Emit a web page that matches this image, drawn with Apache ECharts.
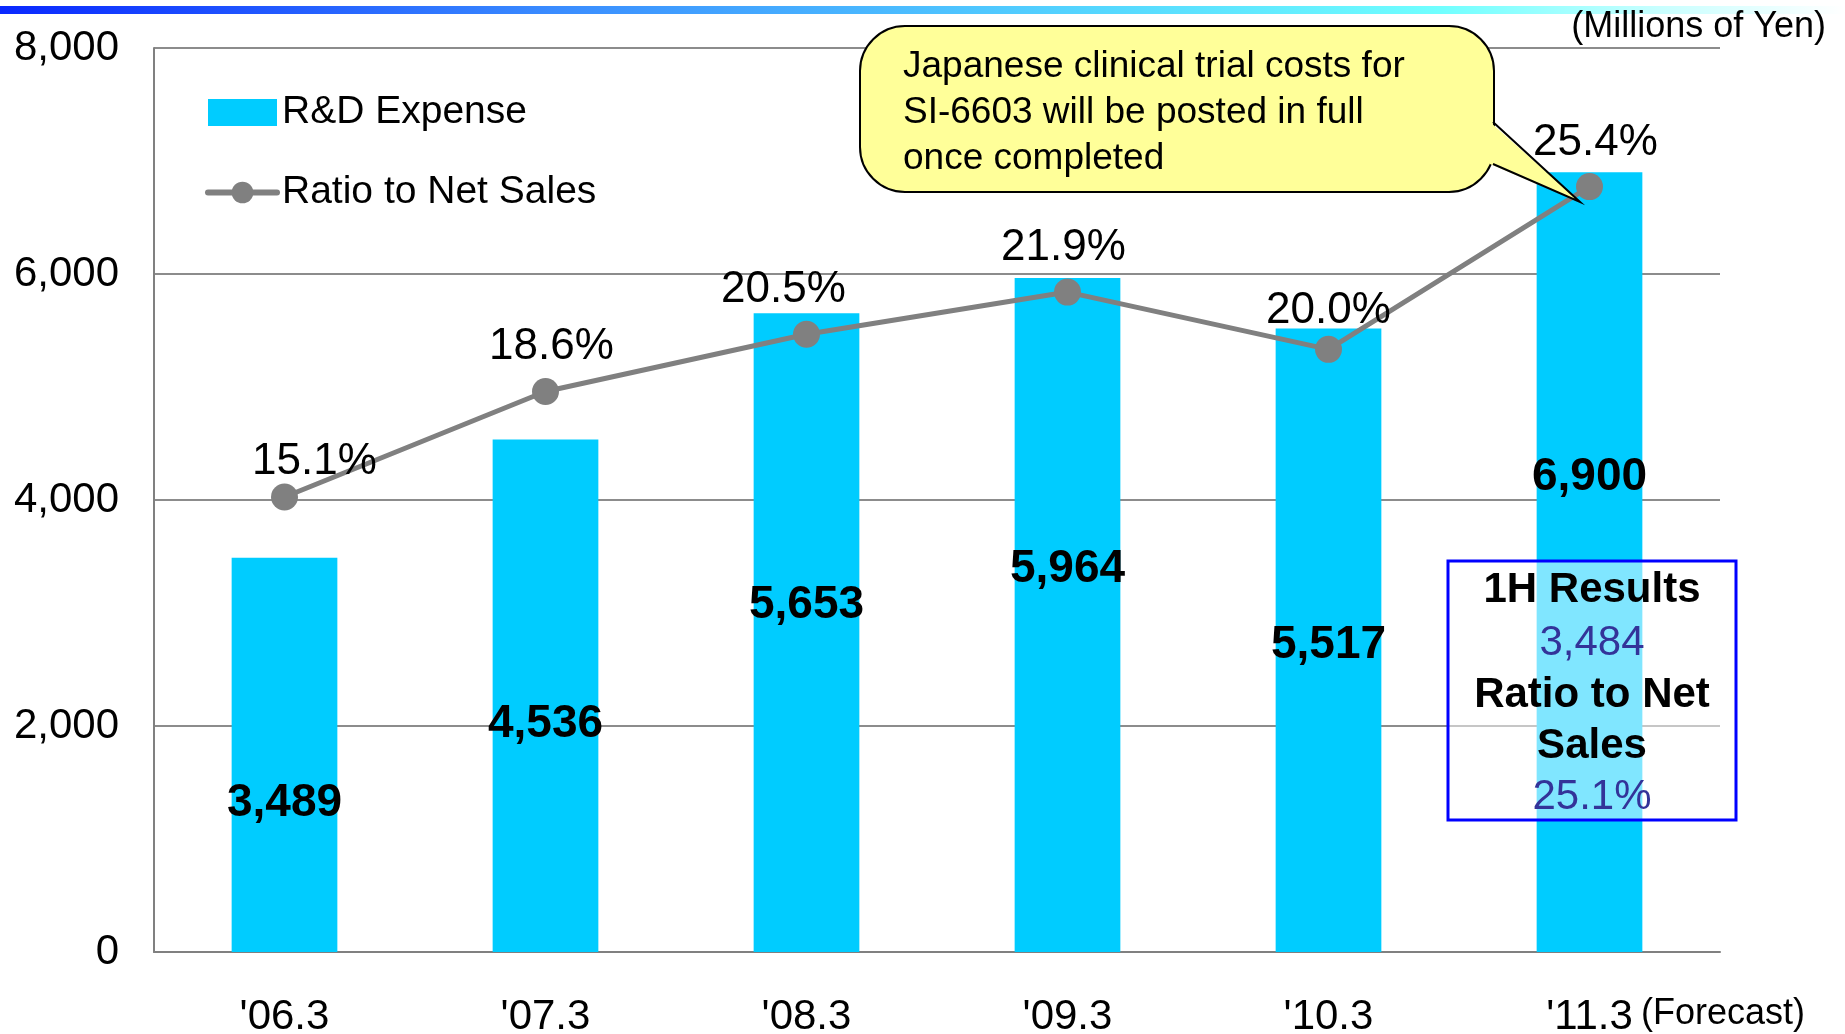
<!DOCTYPE html>
<html><head><meta charset="utf-8">
<script src="https://cdn.jsdelivr.net/npm/echarts@6/dist/echarts.min.js"></script>
<style>html,body{margin:0;padding:0;background:#fff}#c{width:1845px;height:1034px}</style>
</head><body><div id="c"></div>
<script>
const categories = ["'06.3", "'07.3", "'08.3", "'09.3", "'10.3", "'11.3"];
const rdExpense = [3489, 4536, 5653, 5964, 5517, 6900];
const ratioToSales = [15.1, 18.6, 20.5, 21.9, 20.0, 25.4];
const yTicks = [0, 2000, 4000, 6000, 8000];
const halfYear = { results: 3484, ratio: 25.1 };

// label placement offsets (style only)
const barLabelDy = [48, 29, -27, -46, 5, -85];
const ratioLabelOff = [[30, -35], [6, -45], [-23, -44], [-4, -44], [0, -38], [6, -44]];

const FONT = "'Liberation Sans', Arial, sans-serif";
const chart = echarts.init(document.getElementById('c'), null, { renderer: 'canvas' });
const fmt = v => v.toLocaleString('en-US');

const option = {
  animation: false,
  backgroundColor: '#fff',
  textStyle: { fontFamily: FONT },
  grid: { left: 154, right: 125, top: 48, bottom: 82, containLabel: false, outerBoundsMode: 'none' },
  legend: {
    orient: 'vertical', left: 200, top: 88,
    itemWidth: 69, itemHeight: 27, itemGap: 41,
    textStyle: { fontSize: 39, color: '#000', fontFamily: FONT },
    lineStyle: { width: 6, cap: 'round' },
    data: [{ name: 'R&D Expense', icon: 'rect' }, { name: 'Ratio to Net Sales' }]
  },
  xAxis: {
    type: 'category', data: categories,
    axisLine: { lineStyle: { color: '#808080', width: 2 } },
    axisTick: { inside: true, length: 13, lineStyle: { color: '#808080', width: 1.5 } },
    axisLabel: { fontSize: 42, color: '#000', margin: 44, fontFamily: FONT }
  },
  yAxis: [{
    type: 'value', min: yTicks[0], max: yTicks[yTicks.length - 1], interval: 2000,
    axisLine: { show: true, lineStyle: { color: '#808080', width: 2 } },
    axisTick: { show: false },
    splitLine: { lineStyle: { color: '#8c8c8c', width: 2 } },
    axisLabel: { fontSize: 42, color: '#000', margin: 35, padding: [6, 0, 0, 0], formatter: v => fmt(v), fontFamily: FONT }
  }, {
    type: 'value', min: 0, max: 30, show: false, splitLine: { show: false }
  }],
  series: [{
    name: 'R&D Expense', type: 'bar', barWidth: '40.5%',
    itemStyle: { color: '#00CCFF' },
    data: rdExpense.map((v, i) => ({ value: v, label: { offset: [0, barLabelDy[i]] } })),
    label: { show: true, position: 'inside', fontSize: 46, fontWeight: 'bold', color: '#000',
      fontFamily: FONT, formatter: p => fmt(p.value) },
    z: 2
  }, {
    name: 'Ratio to Net Sales', type: 'line', yAxisIndex: 1,
    symbol: 'circle', symbolSize: 27,
    lineStyle: { color: '#808080', width: 5 },
    itemStyle: { color: '#808080' },
    data: ratioToSales.map((v, i) => ({ value: v, label: { offset: ratioLabelOff[i] } })),
    label: { show: true, position: 'inside', fontSize: 44, color: '#000', fontFamily: FONT,
      formatter: p => p.value.toFixed(1) + '%' },
    z: 5
  }],
  graphic: [
    { type: 'rect', shape: { x: 0, y: 6, width: 1845, height: 8 }, silent: true,
      style: { fill: new echarts.graphic.LinearGradient(0, 0, 1, 0, [
        { offset: 0, color: '#0a28ff' }, { offset: 0.3, color: '#3a8cff' },
        { offset: 0.6, color: '#55d8ff' }, { offset: 0.78, color: '#70ffff' },
        { offset: 0.9, color: '#c8ffff' }, { offset: 1, color: '#ffffff' }]) } },
    { type: 'text', right: 19, top: 9, style: { text: '(Millions of Yen)', fontSize: 36, fill: '#000', fontFamily: FONT } },
    { type: 'text', left: 1641, top: 996, style: { text: '(Forecast)', fontSize: 36, fill: '#000', fontFamily: FONT } },
    // callout
    { type: 'rect', z: 100, shape: { x: 860, y: 26, width: 634, height: 166, r: 45 },
      style: { fill: '#FFFF99', stroke: '#000', lineWidth: 2 } },
    { type: 'polygon', z: 101, shape: { points: [[1490, 122], [1580, 202], [1490, 164]] },
      style: { fill: '#FFFF99' } },
    { type: 'polyline', z: 102, shape: { points: [[1493, 122], [1580, 202], [1493, 164]] },
      style: { stroke: '#000', lineWidth: 2, fill: null } },
    { type: 'text', z: 103, left: 903, top: 44, style: {
      text: 'Japanese clinical trial costs for\nSI-6603 will be posted in full\nonce completed',
      fontSize: 37, lineHeight: 46, fill: '#000', fontFamily: FONT } },
    // 1H results box
    { type: 'rect', z: 100, shape: { x: 1448, y: 561, width: 288, height: 259 },
      style: { fill: 'rgba(255,255,255,0.5)', stroke: '#0000FF', lineWidth: 3 } },
    { type: 'text', z: 103, x: 1592, y: 590, style: { text: '1H Results', fontSize: 42, fontWeight: 'bold', fill: '#000', align: 'center', verticalAlign: 'middle', fontFamily: FONT } },
    { type: 'text', z: 103, x: 1592, y: 643, style: { text: fmt(halfYear.results), fontSize: 42, fill: '#333399', align: 'center', verticalAlign: 'middle', fontFamily: FONT } },
    { type: 'text', z: 103, x: 1592, y: 695, style: { text: 'Ratio to Net', fontSize: 42, fontWeight: 'bold', fill: '#000', align: 'center', verticalAlign: 'middle', fontFamily: FONT } },
    { type: 'text', z: 103, x: 1592, y: 746, style: { text: 'Sales', fontSize: 42, fontWeight: 'bold', fill: '#000', align: 'center', verticalAlign: 'middle', fontFamily: FONT } },
    { type: 'text', z: 103, x: 1592, y: 797, style: { text: halfYear.ratio.toFixed(1) + '%', fontSize: 42, fill: '#333399', align: 'center', verticalAlign: 'middle', fontFamily: FONT } }
  ]
};
chart.setOption(option);
</script></body></html>
